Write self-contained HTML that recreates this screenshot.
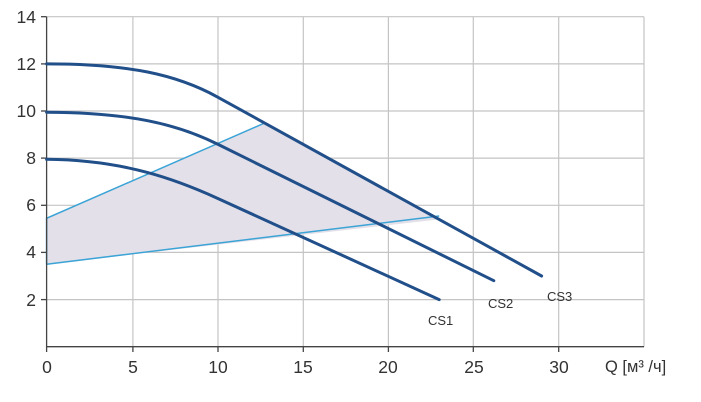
<!DOCTYPE html>
<html><head><meta charset="utf-8"><style>
html,body{margin:0;padding:0;background:#fff;}
svg{display:block;}
text{font-family:"Liberation Sans",sans-serif;fill:#333;}
</style></head><body>
<svg width="701" height="402" viewBox="0 0 701 402" xmlns="http://www.w3.org/2000/svg">
<g stroke="#c4c4c4" stroke-width="1.2">
<line x1="46.6" y1="16.7" x2="644" y2="16.7"/>
<line x1="46.6" y1="63.9" x2="644" y2="63.9"/>
<line x1="46.6" y1="111" x2="644" y2="111"/>
<line x1="46.6" y1="158.1" x2="644" y2="158.1"/>
<line x1="46.6" y1="205.3" x2="644" y2="205.3"/>
<line x1="46.6" y1="252.4" x2="644" y2="252.4"/>
<line x1="46.6" y1="299.6" x2="644" y2="299.6"/>
<line x1="132.9" y1="16.7" x2="132.9" y2="346.7"/>
<line x1="218" y1="16.7" x2="218" y2="346.7"/>
<line x1="303.3" y1="16.7" x2="303.3" y2="346.7"/>
<line x1="388.4" y1="16.7" x2="388.4" y2="346.7"/>
<line x1="473.3" y1="16.7" x2="473.3" y2="346.7"/>
<line x1="558.7" y1="16.7" x2="558.7" y2="346.7"/>
<line x1="644" y1="16.7" x2="644" y2="346.7"/>
</g>
<polygon points="46.6,218.3 265.1,122.8 439.2,219.4 46.6,264.2" fill="#e3e0e9"/>
<g stroke="#3ba3d6" stroke-width="1.5" fill="none">
<polyline points="46.6,264.2 46.6,218.3 265.1,122.8"/>
<line x1="46.6" y1="264.2" x2="439.2" y2="216"/>
</g>
<g stroke="#444" stroke-width="1.3">
<line x1="46.6" y1="16.7" x2="46.6" y2="347"/>
<line x1="46.6" y1="346.7" x2="644" y2="346.7"/>
<line x1="41" y1="16.7" x2="46.6" y2="16.7"/>
<line x1="41" y1="63.9" x2="46.6" y2="63.9"/>
<line x1="41" y1="111" x2="46.6" y2="111"/>
<line x1="41" y1="158.1" x2="46.6" y2="158.1"/>
<line x1="41" y1="205.3" x2="46.6" y2="205.3"/>
<line x1="41" y1="252.4" x2="46.6" y2="252.4"/>
<line x1="41" y1="299.6" x2="46.6" y2="299.6"/>
<line x1="46.6" y1="346.7" x2="46.6" y2="352"/>
<line x1="132.9" y1="346.7" x2="132.9" y2="352"/>
<line x1="218" y1="346.7" x2="218" y2="352"/>
<line x1="303.3" y1="346.7" x2="303.3" y2="352"/>
<line x1="388.4" y1="346.7" x2="388.4" y2="352"/>
<line x1="473.3" y1="346.7" x2="473.3" y2="352"/>
<line x1="558.7" y1="346.7" x2="558.7" y2="352"/>
</g>
<g stroke="#214f8a" stroke-width="3" fill="none" stroke-linecap="round">
<path d="M46.6,63.9 C130,63.9 177.3,74.9 217.3,96.9 L541.6,276"/>
<path d="M46.6,112.2 C130,112.5 177.3,124.2 217.3,144 L493.8,280.7"/>
<path d="M46.6,159.3 C125,160 177.3,180 217.3,198.2 L439.2,299.6"/>
</g>
<g font-size="17.5" text-anchor="end">
<text x="36" y="23">14</text>
<text x="36" y="70">12</text>
<text x="36" y="117">10</text>
<text x="36" y="164">8</text>
<text x="36" y="211">6</text>
<text x="36" y="258">4</text>
<text x="36" y="306">2</text>
</g>
<g font-size="17.5" text-anchor="middle">
<text x="47" y="373">0</text>
<text x="133" y="373">5</text>
<text x="218" y="373">10</text>
<text x="303" y="373">15</text>
<text x="388" y="373">20</text>
<text x="474" y="373">25</text>
<text x="559" y="373">30</text>
</g>
<text x="605" y="372" font-size="16.5">Q [м³ /ч]</text>
<g font-size="13">
<text x="428" y="325">CS1</text>
<text x="488" y="308">CS2</text>
<text x="547" y="301">CS3</text>
</g>
</svg>
</body></html>
